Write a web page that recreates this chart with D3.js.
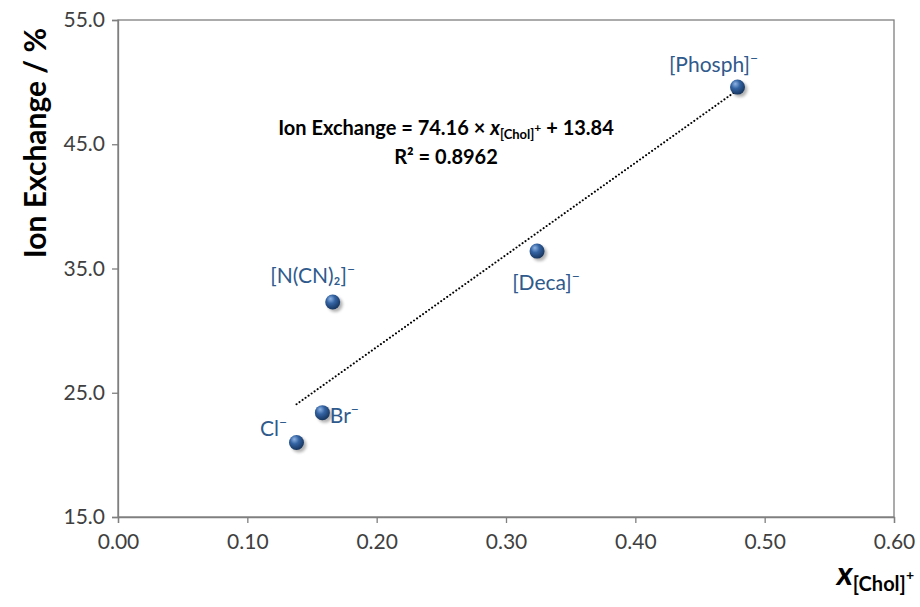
<!DOCTYPE html>
<html>
<head>
<meta charset="utf-8">
<script src="https://cdn.jsdelivr.net/npm/d3@7"></script>
<style>
  body { margin: 0; background: #fff; }
  text { font-family: Lato, "Open Sans", sans-serif; }
</style>
</head>
<body>
<svg id="chart" width="920" height="607"></svg>
<script>
// data
var anions = ["Cl", "Br", "[N(CN)₂]", "[Deca]", "[Phosph]"];
var xChol = [0.138, 0.158, 0.166, 0.324, 0.479];
var ionExchange = [21.0, 23.4, 32.3, 36.4, 49.6];
var xTicks = [0, 0.1, 0.2, 0.3, 0.4, 0.5, 0.6];
var yTicks = [15, 25, 35, 45, 55];
var slope = 74.16, intercept = 13.84, r2 = 0.8962;

var svg = d3.select("#chart"),
    margin = {left: 118, right: 26, top: 20, bottom: 90},
    width = +svg.attr("width"),
    height = +svg.attr("height");

var x = d3.scaleLinear().domain([0, 0.6]).range([margin.left, width - margin.right]);
var y = d3.scaleLinear().domain([15, 55]).range([height - margin.bottom, margin.top]);

// sphere look for markers
var defs = svg.append("defs");
var grad = defs.append("radialGradient").attr("id", "ball")
    .attr("cx", "40%").attr("cy", "35%").attr("r", "65%").attr("fx", "35%").attr("fy", "28%");
grad.append("stop").attr("offset", "0%").attr("stop-color", "#8fb4e3");
grad.append("stop").attr("offset", "45%").attr("stop-color", "#3463a3");
grad.append("stop").attr("offset", "100%").attr("stop-color", "#17365f");
var blur = defs.append("filter").attr("id", "shadow").attr("x", "-50%").attr("y", "-50%").attr("width", "200%").attr("height", "200%");
blur.append("feGaussianBlur").attr("stdDeviation", 1.8);

// frame
svg.append("rect")
    .attr("x", x(0)).attr("y", y(55))
    .attr("width", x(0.6) - x(0)).attr("height", y(15) - y(55))
    .attr("fill", "none").attr("stroke", "#7f7f7f").attr("stroke-width", 1.3);

var xAxis = svg.append("g")
    .attr("transform", "translate(0," + y(15) + ")")
    .call(d3.axisBottom(x).tickValues(xTicks).tickFormat(d3.format(".2f")).tickSize(6).tickPadding(11));
var yAxis = svg.append("g")
    .attr("transform", "translate(" + x(0) + ",0)")
    .call(d3.axisLeft(y).tickValues(yTicks).tickFormat(d3.format(".1f")).tickSize(6).tickPadding(7));

[xAxis, yAxis].forEach(function(a) {
  a.select(".domain").attr("stroke", "#7f7f7f").attr("stroke-width", 1.3);
  a.selectAll(".tick line").attr("stroke", "#7f7f7f").attr("stroke-width", 1.3);
  a.selectAll(".tick text").attr("fill", "#404040").style("font-size", "21px")
    .style("font-family", "Lato, 'Open Sans', sans-serif");
});

// trendline over the data range
var xr = d3.extent(xChol);
svg.append("line")
    .attr("x1", x(xr[0])).attr("y1", y(slope * xr[0] + intercept))
    .attr("x2", x(xr[1])).attr("y2", y(slope * xr[1] + intercept))
    .attr("stroke", "#000").attr("stroke-width", 2)
    .attr("stroke-dasharray", "0.1 3.6").attr("stroke-linecap", "round");

var pts = anions.map(function(a, i) { return {name: a, x: xChol[i], y: ionExchange[i]}; });

var pt = svg.selectAll(".pt").data(pts).enter().append("g").attr("class", "pt");
pt.append("circle")
    .attr("cx", function(d) { return x(d.x) + 2.5; })
    .attr("cy", function(d) { return y(d.y) + 2.5; })
    .attr("r", 7.5).attr("fill", "#000").attr("opacity", 0.3)
    .attr("filter", "url(#shadow)");
pt.append("circle")
    .attr("cx", function(d) { return x(d.x); })
    .attr("cy", function(d) { return y(d.y); })
    .attr("r", 7.5).attr("fill", "url(#ball)");

// label offsets relative to the point (center of text, baseline)
var labelOff = {
  "Cl": [-23, -6],
  "Br": [22, 10],
  "[N(CN)₂]": [-20, -19],
  "[Deca]": [9, 39],
  "[Phosph]": [-24, -15]
};
var lab = pt.append("text")
    .attr("x", function(d) { return x(d.x) + labelOff[d.name][0]; })
    .attr("y", function(d) { return y(d.y) + labelOff[d.name][1]; })
    .attr("text-anchor", "middle")
    .attr("fill", "#2f5a8c")
    .style("font-size", "21px");
lab.append("tspan").text(function(d) { return d.name; });
lab.append("tspan").attr("dy", -9).style("font-size", "14px").text("−");

// equation
var eq = svg.append("text").attr("x", 446).attr("y", 135).attr("text-anchor", "middle")
    .style("font-size", "20px").style("font-weight", "bold").attr("fill", "#000");
eq.append("tspan").text("Ion Exchange = " + slope.toFixed(2) + " × ");
eq.append("tspan").style("font-style", "italic").text("x");
eq.append("tspan").style("font-size", "13px").attr("dy", 4).text("[Chol]");
eq.append("tspan").style("font-size", "12px").attr("dy", -7).text("+");
eq.append("tspan").attr("dy", 3).text(" + " + intercept.toFixed(2));
svg.append("text").attr("x", 446).attr("y", 164).attr("text-anchor", "middle")
    .style("font-size", "20px").style("font-weight", "bold").attr("fill", "#000")
    .text("R² = " + r2.toFixed(4));

// axis titles
svg.append("text")
    .attr("transform", "translate(46,143) rotate(-90)")
    .attr("text-anchor", "middle")
    .style("font-size", "30px").style("font-weight", "bold").attr("fill", "#000")
    .text("Ion Exchange / %");

var xt = svg.append("text").attr("x", 914).attr("y", 585).attr("text-anchor", "end")
    .style("font-weight", "bold").attr("fill", "#000");
xt.append("tspan").style("font-size", "33px").style("font-style", "italic").text("x");
xt.append("tspan").style("font-size", "20px").attr("dy", 6).text("[Chol]");
xt.append("tspan").style("font-size", "14px").attr("dy", -11).text("+");
</script>
</body>
</html>
